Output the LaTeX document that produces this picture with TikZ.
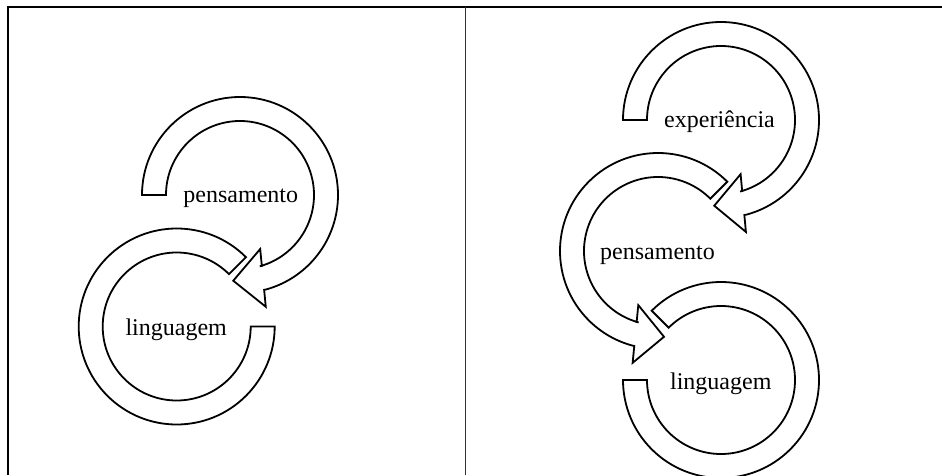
\documentclass[tikz,border=0pt]{standalone}
\usepackage{fontspec}
\setmainfont{Liberation Serif}
\usetikzlibrary{calc}
\tikzstyle{ring}=[draw=black, fill=white, line width=1.8pt, line join=miter]
\tikzstyle{word}=[font=\fontsize{24}{28}\selectfont, anchor=base, inner sep=0pt]
\tikzstyle{rule}=[line width=2pt, color=black]

% ring with two flat ends: centre, from angle, to angle
\newcommand{\ringpart}[3]{%
  \draw[ring] ($(#1)+(#2:98)$) arc[start angle=#2, end angle=#3, radius=98]
    -- ($(#1)+(#3:74)$) arc[start angle=#3, end angle=#2, radius=74] -- cycle;}

% ring with arrowhead: centre, from angle, base angle, tip angle, turn to outside
\newcommand{\ringarrow}[5]{%
  \pgfmathsetmacro{\inturn}{#5+180}
  \coordinate (m) at ($(#1)+(#3:86)$);
  \coordinate (t) at ($(#1)+(#4:86)$);
  \draw[ring] ($(#1)+(#2:98)$) arc[start angle=#2, end angle=#3, radius=98]
    -- ($(m)!12pt!#5:(t)$) -- ($(m)!29pt!#5:(t)$) -- (t)
    -- ($(m)!29pt!\inturn:(t)$) -- ($(m)!12pt!\inturn:(t)$)
    -- ($(#1)+(#3:74)$) arc[start angle=#3, end angle=#2, radius=74] -- cycle;}

\begin{document}
\begin{tikzpicture}[x=1pt, y=1pt]
    \useasboundingbox (0,0) rectangle (942,475);
    \clip (0,0) rectangle (942,475);

    % Frame
    \coordinate (tl) at (7.5,468);
    \coordinate (tr) at (942,468);
    \coordinate (bl) at (7.5,0);
    \coordinate (mt) at (465.5,468);
    \coordinate (mb) at (465.5,0);
    \draw[rule] (bl) -- (tl) -- (tr);
    \draw[line width=1.2pt, color=black!80] (mt) -- (mb);

    % Centres of the rings
    \coordinate (cpens1) at (240,280);
    \coordinate (cling1) at (176.7,148.5);
    \coordinate (cexp) at (721,355);
    \coordinate (cpens2) at (658,224);
    \coordinate (cling2) at (721,95);

    % Left panel
    \ringpart{cling1}{45}{360}
    \ringarrow{cpens1}{180}{-74.5}{-94.5}{90}

    % Right panel
    \ringpart{cling2}{135}{-180}
    \ringarrow{cpens2}{45}{254.8}{274}{-90}
    \ringarrow{cexp}{180}{-75}{-94.5}{90}

    % Labels
    \node[word] (pens1) at (240.8,272.3) {pensamento};
    \node[word] (ling1) at (176.2,140) {linguagem};
    \node[word] (exp) at (719.5,347.7) {experiência};
    \node[word] (pens2) at (657.5,215.7) {pensamento};
    \node[word] (ling2) at (720.8,85.7) {linguagem};

\end{tikzpicture}
\end{document}
